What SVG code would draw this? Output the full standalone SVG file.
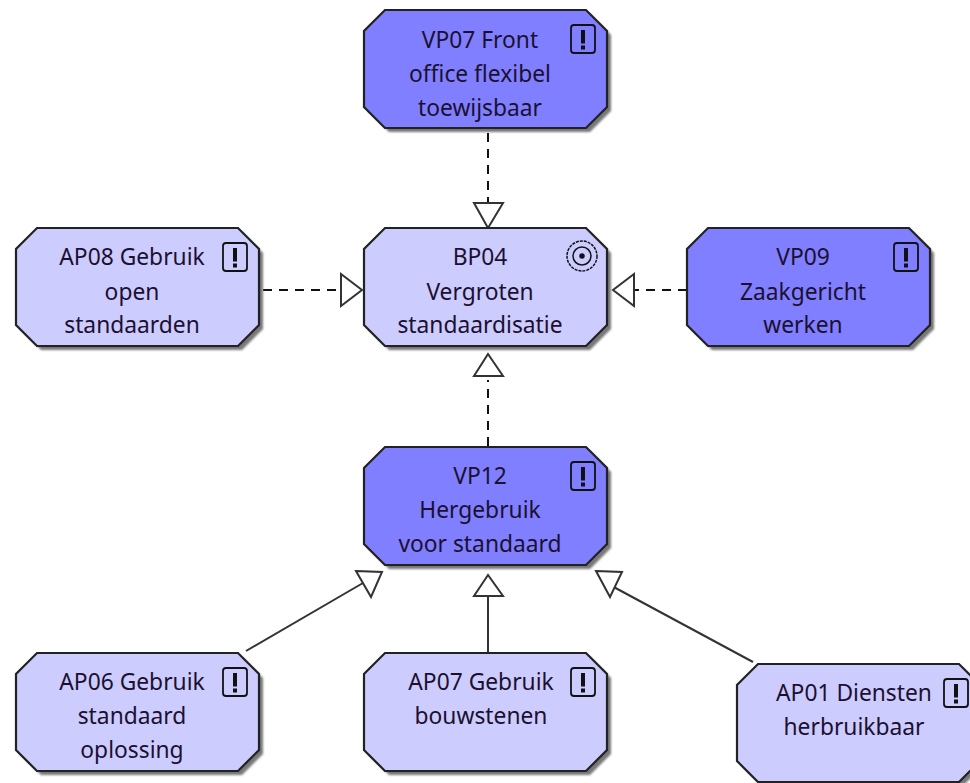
<svg xmlns="http://www.w3.org/2000/svg" width="970" height="783" viewBox="0 0 970 783">
<defs>
<polygon id="oct" points="21,0 222,0 243,21 243,97 222,118 21,118 0,97 0,21"/>
<g id="req"><rect x="207" y="15" width="24" height="28" rx="3" fill="none" stroke="#111" stroke-width="1.800"/><rect x="217" y="20" width="4" height="13.500" fill="#111"/><rect x="217" y="35.500" width="4" height="4" fill="#111"/></g>
<filter id="blur" x="-5%" y="-5%" width="110%" height="110%"><feGaussianBlur stdDeviation="1.200"/></filter>
</defs>
<style>
text{font-family:"Noto Sans","DejaVu Sans",sans-serif;font-size:22.800px;fill:#1c1030;text-anchor:middle}
.shadow{fill:#777;filter:url(#blur)}
.frame{stroke:#222;stroke-width:2.200}
.dark{fill:#7f7fff}
.light{fill:#ccccff}
.dash{fill:none;stroke:#111;stroke-width:2;stroke-dasharray:9 7}
.solid{fill:none;stroke:#333;stroke-width:2}
.head{fill:#fff;stroke:#333;stroke-width:2}
</style>
<rect width="970" height="783" fill="#fff"/>
<g id="connectors">
<path class="dash" d="M488 133V203"/>
<path class="dash" d="M263 290H341"/>
<path class="dash" d="M687 290H634"/>
<path class="dash" d="M488 446V380"/>
<path class="solid" d="M246 651L363 583"/>
<path class="solid" d="M488 653V597"/>
<path class="solid" d="M753 662L610 585"/>
<polygon class="head" points="474,203 503,203 488,228"/>
<polygon class="head" points="341,274 341,306 362,290"/>
<polygon class="head" points="634,274 634,306 613,290"/>
<polygon class="head" points="488,354 474,376 503,376"/>
<polygon class="head" points="356,571 382,572 371,597"/>
<polygon class="head" points="488,575 474,596 503,596"/>
<polygon class="head" points="596,571 622,572 610,597"/>
</g>
<g id="VP07" transform="translate(364,10)"><use href="#oct" class="shadow" x="4" y="4"/><use href="#oct" class="dark frame"/><use href="#req"/><text x="116" y="38">VP07 Front</text><text x="116" y="72">office flexibel</text><text x="116" y="106">toewijsbaar</text></g>
<g id="BP04" transform="translate(364,228)"><use href="#oct" class="shadow" x="4" y="4"/><use href="#oct" class="light frame"/><g fill="none" stroke="#111" stroke-width="1.500"><circle cx="218" cy="28" r="15" stroke-dasharray="3 1"/><circle cx="218" cy="28" r="9"/><circle cx="218" cy="28" r="2" fill="#111"/></g><text x="116" y="37">BP04</text><text x="116" y="72">Vergroten</text><text x="116" y="105">standaardisatie</text></g>
<g id="AP08" transform="translate(16,228)"><use href="#oct" class="shadow" x="4" y="4"/><use href="#oct" class="light frame"/><use href="#req"/><text x="116" y="37">AP08 Gebruik</text><text x="116" y="72">open</text><text x="116" y="105">standaarden</text></g>
<g id="VP09" transform="translate(687,228)"><use href="#oct" class="shadow" x="4" y="4"/><use href="#oct" class="dark frame"/><use href="#req"/><text x="116" y="37">VP09</text><text x="116" y="72">Zaakgericht</text><text x="116" y="105">werken</text></g>
<g id="VP12" transform="translate(364,447)"><use href="#oct" class="shadow" x="4" y="4"/><use href="#oct" class="dark frame"/><use href="#req"/><text x="116" y="37">VP12</text><text x="116" y="71">Hergebruik</text><text x="116" y="105">voor standaard</text></g>
<g id="AP06" transform="translate(16,653)"><use href="#oct" class="shadow" x="4" y="4"/><use href="#oct" class="light frame"/><use href="#req"/><text x="116" y="37">AP06 Gebruik</text><text x="116" y="71">standaard</text><text x="116" y="105">oplossing</text></g>
<g id="AP07" transform="translate(364,653)"><use href="#oct" class="shadow" x="4" y="4"/><use href="#oct" class="light frame"/><use href="#req"/><text x="117" y="37">AP07 Gebruik</text><text x="117" y="71">bouwstenen</text></g>
<g id="AP01" transform="translate(737,664)"><use href="#oct" class="shadow" x="4" y="4"/><use href="#oct" class="light frame"/><use href="#req"/><text x="117" y="37">AP01 Diensten</text><text x="117" y="71">herbruikbaar</text></g>
</svg>
